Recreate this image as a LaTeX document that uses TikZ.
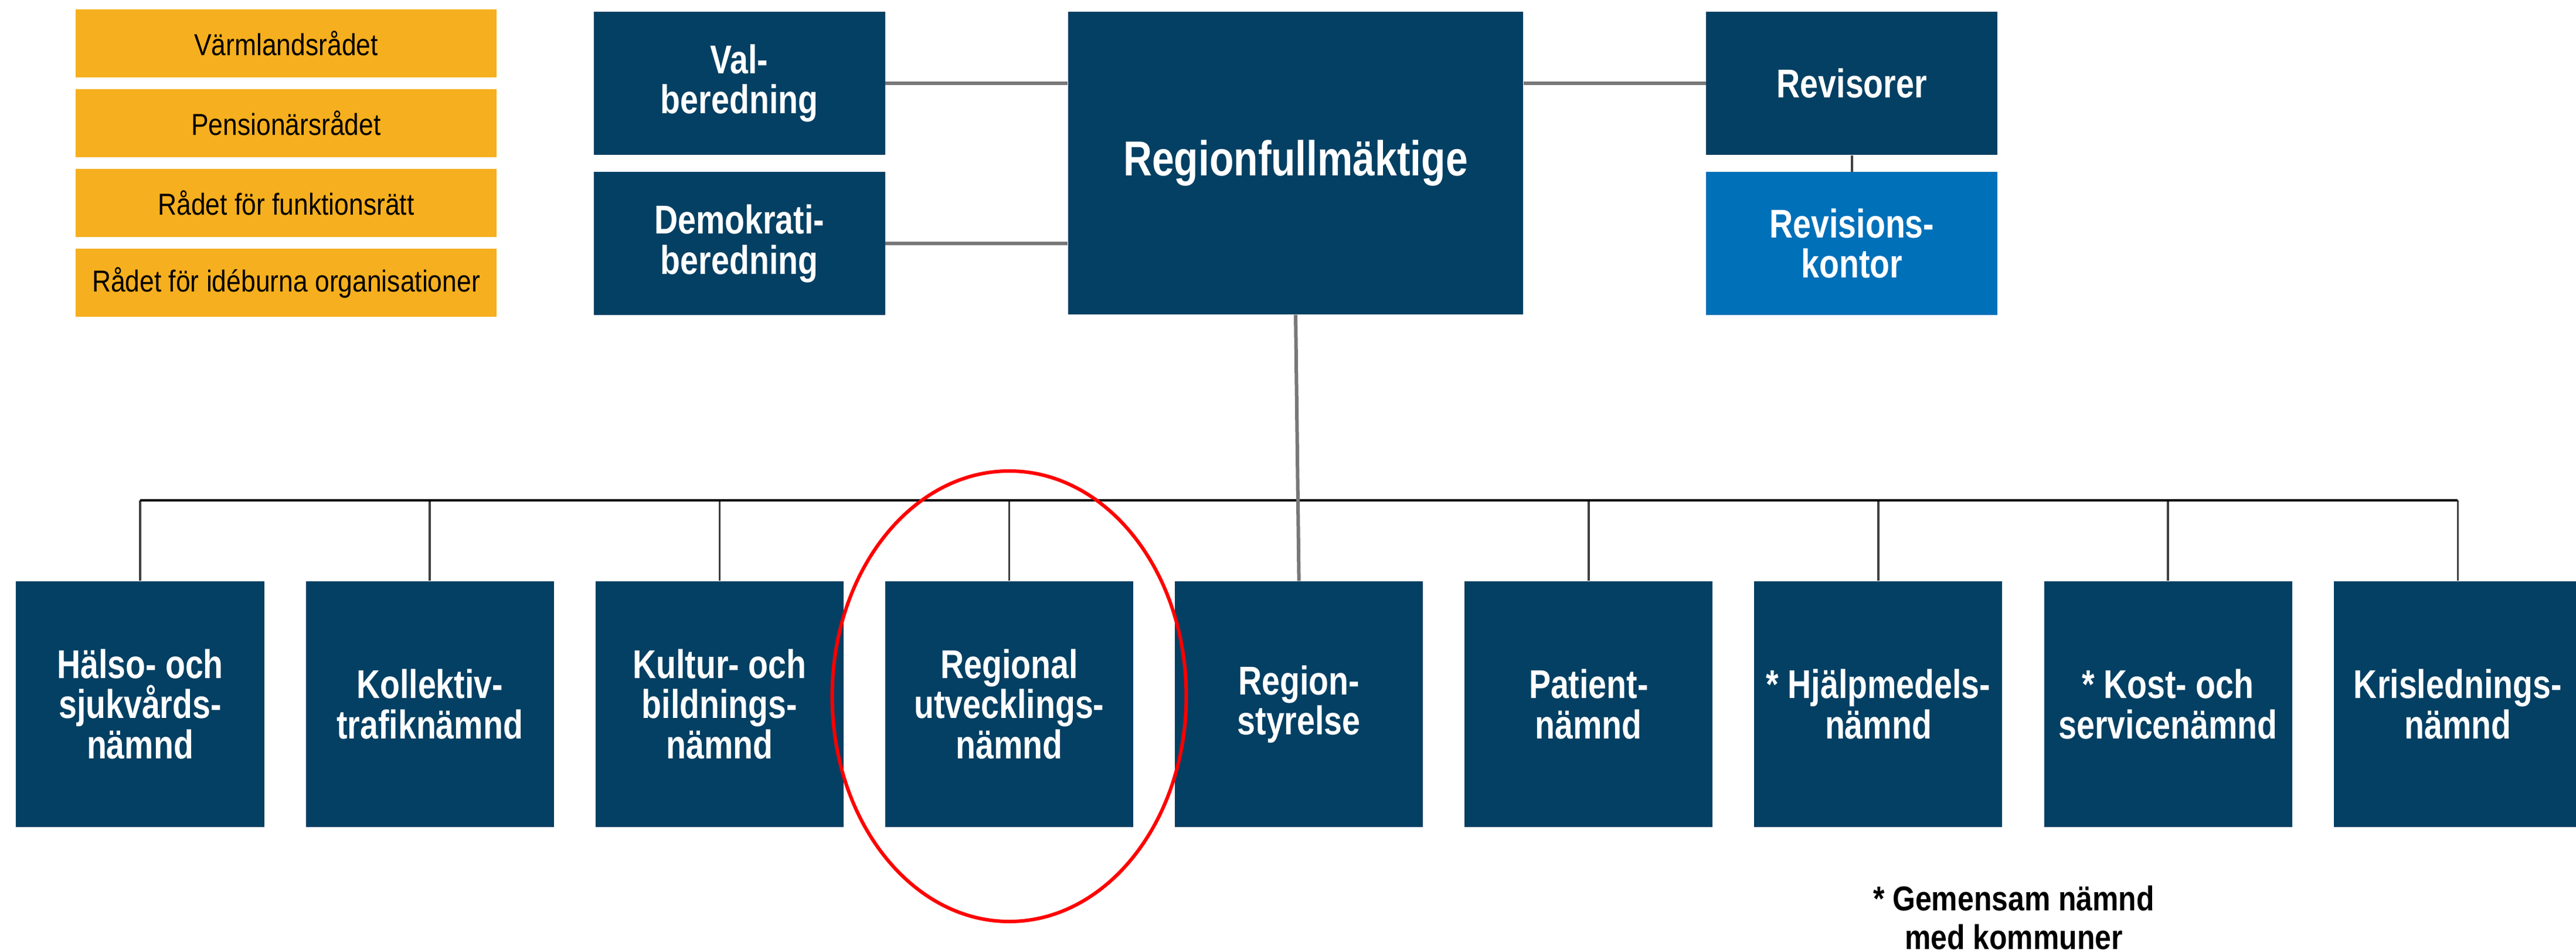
\documentclass[tikz,border=0pt]{standalone}
\usepackage{fontspec}
\setmainfont{Liberation Sans}[FakeStretch=0.81]
\newfontfamily\radfont{Liberation Sans}[FakeStretch=0.86]
\newfontfamily\notfont{Liberation Sans}[FakeStretch=0.85]
\usetikzlibrary{positioning}
\definecolor{marin}{RGB}{3,64,99}
\definecolor{revbla}{RGB}{0,112,185}
\definecolor{gul}{RGB}{246,175,30}
\definecolor{linjegra}{RGB}{120,120,120}
\tikzset{
    %Define style for the committee boxes
    namnd/.style={
           rectangle,
           fill=marin,
           text=white,
           font=\bfseries\fontsize{19.5}{19.4}\selectfont,
           minimum width=42.3mm,
           minimum height=41.9mm,
           inner sep=0pt,
           align=center},
    %Define style for the small boxes at the top
    topp/.style={
           namnd,
           minimum width=49.7mm,
           minimum height=24.4mm},
    %Define style for the councils
    rad/.style={
           rectangle,
           fill=gul,
           font=\radfont\fontsize{14.7}{14.7}\selectfont,
           minimum width=71.8mm,
           minimum height=11.6mm,
           inner sep=0pt},
    % Define line styles
    linje/.style={
           draw=linjegra,
           line width=0.6mm},
    tunn/.style={
           draw=black!75,
           line width=0.35mm},
    buss/.style={
           draw=black,
           line width=0.42mm},
    ring/.style={
           draw=red,
           line width=0.6mm}
}

\begin{document}
\begin{tikzpicture}[x=1mm, y=1mm]
     \useasboundingbox (0,0) rectangle (439.4,162.2);
     % councils
     \node[rad] (varm) at (48.8,154.8) {Värmlandsrådet};
     \node[rad, below=1.87mm of varm] (pens) {Pensionärsrådet};
     \node[rad, below=1.87mm of pens] (funk) {Rådet för funktionsrätt};
     \node[rad, below=1.87mm of funk] (ide) {Rådet för idéburna organisationer};
     % top
     \node[namnd, font=\bfseries\fontsize{23.8}{23.8}\selectfont,
           minimum width=77.6mm, minimum height=51.6mm] (rf) at (221,134.4) {Regionfullmäktige};
     \node[topp, left=31.1mm of rf.north west, anchor=north east] (val) {Val-\\beredning};
     \node[topp, below=2.8mm of val] (demo) {Demokrati-\\beredning};
     \node[topp, right=31.1mm of rf.north east, anchor=north west] (rev) {Revisorer};
     \node[topp, fill=revbla, below=2.8mm of rev] (revk) {Revisions-\\kontor}
       edge[tunn] (rev);
     \draw[linje] (val.east) -- (val.east -| rf.west);
     \draw[linje] (demo.east) -- (demo.east -| rf.west);
     \draw[linje] (rev.west -| rf.east) -- (rev.west);
     \coordinate[below=31.6mm of rf.south] (bus);
     % committees
     \node[namnd] (hs) at (23.9,42.15) {Hälso- och\\sjukvårds-\\nämnd}
       edge[tunn] (hs.north |- bus);
     \node[namnd, right=6.975mm of hs] (kt) {Kollektiv-\\trafiknämnd}
       edge[tunn] (kt.north |- bus);
     \node[namnd, right=6.975mm of kt] (kb) {Kultur- och\\bildnings-\\nämnd}
       edge[tunn] (kb.north |- bus);
     \node[namnd, right=6.975mm of kb] (ru) {Regional\\utvecklings-\\nämnd}
       edge[tunn] (ru.north |- bus);
     \node[namnd, right=6.975mm of ru] (rs) {Region-\\styrelse};
     \node[namnd, right=6.975mm of rs] (pn) {Patient-\\nämnd}
       edge[tunn] (pn.north |- bus);
     \node[namnd, right=6.975mm of pn] (hj) {* Hjälpmedels-\\nämnd}
       edge[tunn] (hj.north |- bus);
     \node[namnd, right=6.975mm of hj] (ks) {* Kost- och\\servicenämnd}
       edge[tunn] (ks.north |- bus);
     \node[namnd, right=6.975mm of ks] (kl) {Krislednings-\\nämnd}
       edge[tunn] (kl.north |- bus);
     \draw[buss] (hs.north |- bus) -- (kl.north |- bus);
     \draw[linje] (rf.south) -- (rs.north);
     \node[font=\notfont\bfseries\fontsize{16.7}{18.8}\selectfont, align=center,
           anchor=north, inner sep=0pt] (fot) at (343.5,11.3) {* Gemensam nämnd\\med kommuner};
     \draw[ring] ([yshift=1.35mm]ru.center) ellipse [x radius=30.2mm, y radius=38.4mm];
\end{tikzpicture}
\end{document}
